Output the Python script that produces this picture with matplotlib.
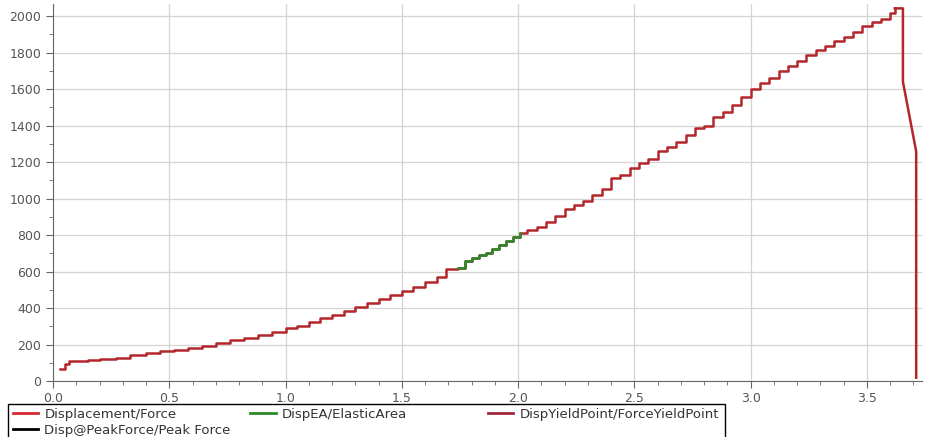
import matplotlib
matplotlib.use("Agg")
import matplotlib.pyplot as plt
from matplotlib.lines import Line2D
from matplotlib.patches import Rectangle
from matplotlib.ticker import MultipleLocator, FormatStrFormatter

# displacement (mm) / force (N) readings of the loading curve
disp = [0.03, 0.05, 0.07, 0.10, 0.15, 0.20, 0.27, 0.33, 0.40, 0.46, 0.52, 0.58,
        0.64, 0.70, 0.76, 0.82, 0.88, 0.94, 1.00, 1.05, 1.10, 1.15, 1.20, 1.25,
        1.30, 1.35, 1.40, 1.45, 1.50, 1.55, 1.60, 1.65, 1.69, 1.74, 1.77, 1.80,
        1.83, 1.86, 1.89, 1.92, 1.95, 1.98, 2.01, 2.04, 2.08, 2.12, 2.16, 2.20,
        2.24, 2.28, 2.32, 2.36, 2.40, 2.44, 2.48, 2.52, 2.56, 2.60, 2.64, 2.68,
        2.72, 2.76, 2.80, 2.84, 2.88, 2.92, 2.96, 3.00, 3.04, 3.08, 3.12, 3.16,
        3.20, 3.24, 3.28, 3.32, 3.36, 3.40, 3.44, 3.48, 3.52, 3.56, 3.60, 3.62]
force = [64, 95, 108, 112, 116, 120, 128, 140, 153, 163, 172, 182,
         192, 208, 222, 236, 253, 270, 288, 303, 323, 343, 363, 384,
         405, 428, 450, 471, 492, 513, 540, 570, 612, 620, 655, 672,
         688, 703, 722, 745, 768, 791, 810, 825, 845, 870, 905, 945,
         965, 985, 1020, 1050, 1112, 1128, 1165, 1195, 1218, 1262, 1285, 1312,
         1350, 1385, 1400, 1445, 1475, 1515, 1555, 1598, 1632, 1660, 1700, 1728,
         1755, 1785, 1812, 1835, 1862, 1885, 1915, 1945, 1968, 1985, 2015, 2042]

# failure after the peak
fail_disp = [3.62, 3.655, 3.655, 3.712, 3.712]
fail_force = [2042, 2042, 1640, 1258, 18]

# elastic area range
ea_start, ea_end = 1.74, 2.01

red = "#b3262b"
green = "#2a8a2a"
yield_col = "#a0283c"
grey = "#555555"

fig = plt.figure(figsize=(9.26, 4.37), dpi=100)
ax = fig.add_axes([53 / 926, 56 / 437, 869 / 926, 377 / 437])

ax.plot(disp, force, drawstyle="steps-post", color=red, lw=1.8)
ax.plot(fail_disp, fail_force, color=red, lw=1.8)

ea_d = [d for d in disp if ea_start <= d <= ea_end]
ea_f = [f for d, f in zip(disp, force) if ea_start <= d <= ea_end]
ax.plot(ea_d, ea_f, drawstyle="steps-post", color=green, lw=1.8)

ax.set_xlim(0, 3.737)
ax.set_ylim(0, 2066)
ax.xaxis.set_major_locator(MultipleLocator(0.5))
ax.xaxis.set_minor_locator(MultipleLocator(0.1))
ax.yaxis.set_major_locator(MultipleLocator(200))
ax.yaxis.set_minor_locator(MultipleLocator(100))
ax.xaxis.set_major_formatter(FormatStrFormatter("%.1f"))

ax.grid(True, which="major", color="#d4d4d4", lw=0.9)
ax.set_axisbelow(True)
for s in ["top", "right"]:
    ax.spines[s].set_visible(False)
for s in ["left", "bottom"]:
    ax.spines[s].set_color("#666666")
ax.tick_params(which="major", length=5, color="#666666", labelcolor=grey,
               labelsize=9)
ax.tick_params(axis="x", pad=3)
ax.tick_params(which="minor", length=3, color="#666666")

# legend box below the plot
fig.patches.append(Rectangle((8 / 926, -0.05), 717 / 926, 0.05 + 33 / 437,
                             transform=fig.transFigure, fill=False,
                             edgecolor="black", lw=1))

h = [Line2D([], [], color="#d42a2f", lw=2),
     Line2D([], [], color="black", lw=2),
     Line2D([], [], color=green, lw=2),
     Line2D([], [], color=yield_col, lw=2)]
lab = ["Displacement/Force", "Disp@PeakForce/Peak Force",
       "DispEA/ElasticArea", "DispYieldPoint/ForceYieldPoint"]

leg1 = fig.legend(h[:3], lab[:3], ncol=2, loc="upper left",
                  bbox_to_anchor=(6 / 926, 36 / 437),
                  frameon=False, fontsize=9.5, handlelength=1.9,
                  handletextpad=0.5, columnspacing=1.5, labelspacing=0.25,
                  borderpad=0, labelcolor="#333333")
leg2 = fig.legend(h[3:], lab[3:], loc="upper left",
                  bbox_to_anchor=(481 / 926, 36 / 437),
                  frameon=False, fontsize=9.5, handlelength=1.9,
                  handletextpad=0.5, borderpad=0, labelcolor="#333333")

fig.savefig("out.png", dpi=100)
